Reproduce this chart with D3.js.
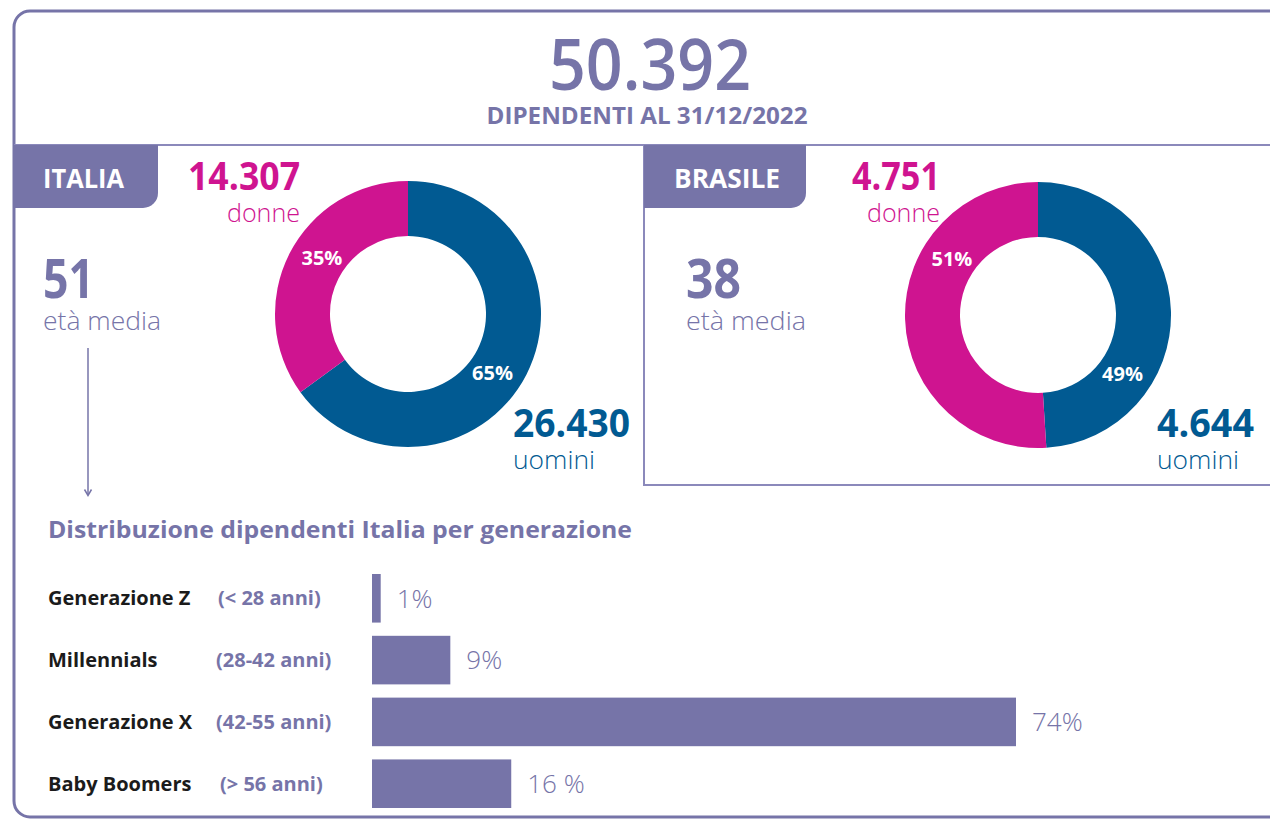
<!DOCTYPE html>
<html lang="it">
<head>
<meta charset="utf-8">
<title>Dipendenti al 31/12/2022</title>
<script src="https://cdn.jsdelivr.net/npm/d3@7"></script>
<style>
  html, body { margin: 0; padding: 0; background: #ffffff; }
  svg { display: block; font-family: "Open Sans", "Noto Sans", sans-serif; }
</style>
</head>
<body>
<svg id="chart" width="1270" height="819"></svg>
<script>
// ---- Data ----------------------------------------------------------
const totalEmployees = 50392;
const totalCaption = "DIPENDENTI AL 31/12/2022";

const countries = ["ITALIA", "BRASILE"];
const womenCount = [14307, 4751];
const menCount = [26430, 4644];
const womenPct = [35, 51];
const menPct = [65, 49];
const averageAge = [51, 38];

const barTitle = "Distribuzione dipendenti Italia per generazione";
const generations = ["Generazione Z", "Millennials", "Generazione X", "Baby Boomers"];
const ageRanges = ["(< 28 anni)", "(28-42 anni)", "(42-55 anni)", "(> 56 anni)"];
const generationPct = [1, 9, 74, 16];
const generationLabels = ["1%", "9%", "74%", "16 %"];

// ---- Styling -------------------------------------------------------
const PURPLE = "#7674a8";
const LINE = "#8b89bb";
const BLUE = "#015a92";
const MAGENTA = "#cf1490";
const INK = "#1b1b1b";

const it = d3.formatLocale({ decimal: ",", thousands: ".", grouping: [3], currency: ["€", ""] });
const fmt = it.format(",");

const svg = d3.select("#chart");
const W = 1270;

// Fit a text element to a given width (condensed lettering)
function fit(sel, width) {
  sel.attr("textLength", width).attr("lengthAdjust", "spacingAndGlyphs");
  return sel;
}

// ---- Frame ---------------------------------------------------------
svg.append("rect")
  .attr("x", 14).attr("y", 11)
  .attr("width", W + 40).attr("height", 806)
  .attr("rx", 16).attr("ry", 16)
  .attr("fill", "none").attr("stroke", PURPLE).attr("stroke-width", 3);

svg.append("line")
  .attr("x1", 14).attr("x2", W).attr("y1", 145).attr("y2", 145)
  .attr("stroke", LINE).attr("stroke-width", 2);

// ---- Headline ------------------------------------------------------
fit(svg.append("text")
  .attr("x", 650).attr("y", 90)
  .attr("text-anchor", "middle")
  .attr("font-size", 70).attr("font-weight", 600)
  .attr("fill", PURPLE)
  .text(fmt(totalEmployees)), 202);

fit(svg.append("text")
  .attr("x", 647).attr("y", 124)
  .attr("text-anchor", "middle")
  .attr("font-size", 23).attr("font-weight", 700)
  .attr("fill", PURPLE)
  .text(totalCaption), 321);

// ---- Country panels ------------------------------------------------
const panel = [
  { tabX: 14, tabW: 144, cx: 408, cy: 314, ageX: 43, womenX: 300, menX: 513 },
  { tabX: 644, tabW: 162, cx: 1038, cy: 315, ageX: 686, womenX: 940, menX: 1157 }
];

// Brazil box outline
svg.append("path")
  .attr("d", `M644,145 V485 H${W}`)
  .attr("fill", "none").attr("stroke", LINE).attr("stroke-width", 2);

const pie = d3.pie().sort(null).startAngle(0).endAngle(2 * Math.PI);
const arc = d3.arc().innerRadius(78).outerRadius(133);
const sliceKeys = ["uomini", "donne"];
const sliceColor = d3.scaleOrdinal().domain(sliceKeys).range([BLUE, MAGENTA]);
// fixed label angles (radians, clockwise from 12 o'clock) for men / women
const labelAngle = { uomini: 2.18, donne: -0.99 };
const labelRadius = 103;

countries.forEach((name, i) => {
  const p = panel[i];
  const g = svg.append("g");

  // tab
  const tx = p.tabX, tw = p.tabW, r = 15;
  g.append("path")
    .attr("d", `M${tx},145 H${tx + tw} V${208 - r} A${r},${r} 0 0 1 ${tx + tw - r},208 H${tx} Z`)
    .attr("fill", PURPLE);
  fit(g.append("text")
    .attr("x", tx + (i === 0 ? 29 : 30)).attr("y", 188)
    .attr("font-size", 26).attr("font-weight", 700)
    .attr("fill", "#ffffff")
    .text(name), i === 0 ? 81 : 106);

  // donut
  const slices = pie([menPct[i], womenPct[i]])
    .map((s, k) => Object.assign(s, { key: sliceKeys[k] }));

  const donut = g.append("g").attr("transform", `translate(${p.cx},${p.cy})`);
  donut.selectAll("path.slice")
    .data(slices)
    .join("path")
    .attr("class", "slice")
    .attr("d", arc)
    .attr("fill", d => sliceColor(d.key));

  donut.selectAll("text.pct")
    .data(slices)
    .join("text")
    .attr("class", "pct")
    .attr("x", d => Math.sin(labelAngle[d.key]) * labelRadius)
    .attr("y", d => -Math.cos(labelAngle[d.key]) * labelRadius)
    .attr("dy", "0.35em")
    .attr("text-anchor", "middle")
    .attr("font-size", 20).attr("font-weight", 700)
    .attr("fill", "#ffffff")
    .text(d => d.data + "%");

  // women count
  fit(g.append("text")
    .attr("x", p.womenX).attr("y", 190)
    .attr("text-anchor", "end")
    .attr("font-size", 39).attr("font-weight", 700)
    .attr("fill", MAGENTA)
    .text(fmt(womenCount[i])), i === 0 ? 112 : 88);
  fit(g.append("text")
    .attr("x", p.womenX).attr("y", 222)
    .attr("text-anchor", "end")
    .attr("font-size", 25).attr("font-weight", 300)
    .attr("fill", MAGENTA)
    .text("donne"), 73);

  // men count
  fit(g.append("text")
    .attr("x", p.menX).attr("y", 437)
    .attr("font-size", 39).attr("font-weight", 700)
    .attr("fill", BLUE)
    .text(fmt(menCount[i])), i === 0 ? 117 : 97);
  fit(g.append("text")
    .attr("x", p.menX).attr("y", 469)
    .attr("font-size", 25).attr("font-weight", 300)
    .attr("fill", BLUE)
    .text("uomini"), 82);

  // average age
  fit(g.append("text")
    .attr("x", p.ageX).attr("y", 298)
    .attr("font-size", 54).attr("font-weight", 700)
    .attr("fill", PURPLE)
    .text(averageAge[i]), i === 0 ? 51 : 55);
  fit(g.append("text")
    .attr("x", p.ageX).attr("y", 330)
    .attr("font-size", 26).attr("font-weight", 300)
    .attr("fill", PURPLE)
    .text("età media"), i === 0 ? 118 : 120);
});

// arrow from Italian average age down to the generation breakdown
svg.append("line")
  .attr("x1", 88).attr("x2", 88).attr("y1", 348).attr("y2", 494)
  .attr("stroke", PURPLE).attr("stroke-width", 1.5);
svg.append("path")
  .attr("d", "M84.5,489.5 L88,495.5 L91.5,489.5")
  .attr("fill", "none").attr("stroke", PURPLE).attr("stroke-width", 1.5);

// ---- Generation bars -----------------------------------------------
fit(svg.append("text")
  .attr("x", 48).attr("y", 538)
  .attr("font-size", 24).attr("font-weight", 700)
  .attr("fill", PURPLE)
  .text(barTitle), 584);

const x = d3.scaleLinear().domain([0, 74]).range([372, 1016]);
const y = d3.scaleBand().domain(generations).range([574, 808]).paddingInner(0.214).paddingOuter(0);

const rows = svg.append("g").selectAll("g.row")
  .data(generations.map((g, i) => ({ name: g, range: ageRanges[i], pct: generationPct[i], label: generationLabels[i] })))
  .join("g").attr("class", "row");

rows.append("rect")
  .attr("x", x(0))
  .attr("y", d => y(d.name))
  .attr("width", d => x(d.pct) - x(0))
  .attr("height", y.bandwidth())
  .attr("fill", PURPLE);

rows.append("text")
  .attr("x", d => x(d.pct) + 16)
  .attr("y", d => y(d.name) + y.bandwidth() / 2)
  .attr("dy", "0.36em")
  .attr("font-size", 26).attr("font-weight", 300)
  .attr("fill", PURPLE)
  .text(d => d.label);

rows.append("text")
  .attr("x", 48)
  .attr("y", d => y(d.name) + y.bandwidth() / 2)
  .attr("dy", "0.36em")
  .attr("font-size", 20).attr("font-weight", 700)
  .attr("fill", INK)
  .text(d => d.name);

const rangeX = [218, 216, 216, 220];
rows.append("text")
  .attr("x", (d, i) => rangeX[i])
  .attr("y", d => y(d.name) + y.bandwidth() / 2)
  .attr("dy", "0.36em")
  .attr("font-size", 20).attr("font-weight", 700)
  .attr("fill", PURPLE)
  .text(d => d.range);
</script>
</body>
</html>
